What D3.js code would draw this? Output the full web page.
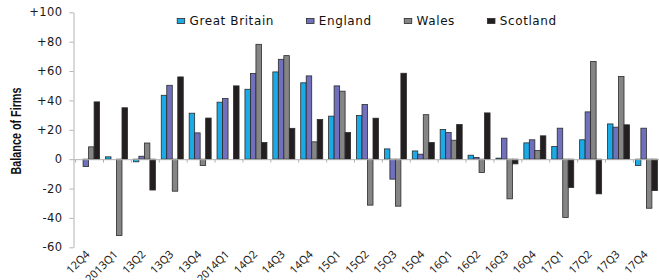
<!DOCTYPE html>
<html>
<head>
<meta charset="utf-8">
<script src="https://cdn.jsdelivr.net/npm/d3@7"></script>
<style>
  body { margin: 0; background: #fff; }
  svg { display: block; }
  .yaxis text { font-family: 'DejaVu Sans', sans-serif; font-size: 11.5px; fill: #1a1a1a; letter-spacing: 0.4px; }
  .yaxis path, .yaxis line, .xaxis path, .xaxis line { stroke: #b3b3b3; }
  .xaxis text { font-family: 'Noto Sans', sans-serif; font-size: 11px; fill: #1a1a1a; }
  .legend text { font-family: 'DejaVu Sans', sans-serif; font-size: 12px; fill: #111; letter-spacing: 0.6px; }
</style>
</head>
<body>
<svg id="chart"></svg>
<script>
let categories = ['12Q4', '2013Q1', '13Q2', '13Q3', '13Q4', '2014Q1', '14Q2', '14Q3', '14Q4', '15Q1', '15Q2',
  '15Q3', '15Q4', '16Q1', '16Q2', '16Q3', '16Q4', '17Q1', '17Q2', '17Q3', '17Q4']

let seriesNames = ['Great Britain', 'England', 'Wales', 'Scotland']

let greatBritain = [0, 1.6, -1.8, 43.5, 31.3, 38.8, 47.6, 59.4, 52, 29.3, 29.7, 7, 5.6, 20.2, 2.7, 0.7, 11.1, 8.6, 13.2, 24, -4.3]
let england = [-5, 0, 2, 50.3, 17.9, 41.3, 58.3, 68, 56.7, 49.9, 37.2, -13.6, 3.4, 18.1, 1.1, 14.3, 13.2, 21.1, 32.2, 21.8, 21.1]
let wales = [8.4, -52, 11, -21.8, -4.3, 0, 78.2, 70.5, 11.8, 46.3, -31.3, -32, 30.3, 12.9, -9.1, -27, 5.9, -39.7, 66.5, 56.3, -33.4]
let scotland = [39, 35, -21, 56, 28, 49.9, 11.3, 21, 27, 18.1, 27.9, 58.5, 11.3, 23.6, 31.5, -3.2, 15.9, -19.3, -23.6, 23.4, -21.4]

let yTicks = [-60, -40, -20, 0, 20, 40, 60, 80, 100]

let width = 659
let height = 280

let colorScale = d3.scaleOrdinal()
  .domain(seriesNames)
  .range(['#1aabe6', '#7070bd', '#858585', '#231f20'])

let svg = d3.select('#chart')
  .attr('width', width)
  .attr('height', height)

// one step per quarter, chart runs slightly past the right edge like the original
let xPositionScale = d3.scaleBand()
  .domain(categories)
  .range([75.6, 75.6 + 21 * 27.89])

let xSeriesScale = d3.scaleBand()
  .domain(seriesNames)
  .range([2, 24])

let yPositionScale = d3.scaleLinear()
  .domain([-60, 100])
  .range([247.3, 12.3])

let rows = categories.map(function (c, i) {
  return {
    cat: c,
    values: [
      { name: 'Great Britain', v: greatBritain[i] },
      { name: 'England', v: england[i] },
      { name: 'Wales', v: wales[i] },
      { name: 'Scotland', v: scotland[i] }
    ]
  }
})

// y axis
let yAxis = d3.axisLeft(yPositionScale)
  .tickValues(yTicks)
  .tickSize(4)
  .tickSizeOuter(0)
  .tickPadding(7)
  .tickFormat(function (d) { return d > 0 ? '+' + d : d })

svg.append('g')
  .attr('class', 'yaxis')
  .attr('transform', 'translate(73.5,0)')
  .call(yAxis)

// bars
let groups = svg.selectAll('.group')
  .data(rows)
  .enter()
  .append('g')
  .attr('class', 'group')
  .attr('transform', function (d) { return 'translate(' + xPositionScale(d.cat) + ',0)' })

groups.selectAll('rect')
  .data(function (d) { return d.values })
  .enter()
  .append('rect')
  .attr('x', function (d) { return xSeriesScale(d.name) })
  .attr('width', xSeriesScale.bandwidth())
  .attr('y', function (d) { return yPositionScale(Math.max(0, d.v)) })
  .attr('height', function (d) { return Math.abs(yPositionScale(d.v) - yPositionScale(0)) })
  .attr('fill', function (d) { return colorScale(d.name) })
  .attr('stroke', '#2a2a2a')
  .attr('stroke-width', 0.8)

// x axis on the zero line
let xAxis = d3.axisBottom(xPositionScale)
  .tickSize(0)
  .tickSizeOuter(0)
  .tickFormat('')

let xg = svg.append('g')
  .attr('class', 'xaxis')
  .attr('transform', 'translate(0,' + yPositionScale(0) + ')')
  .call(xAxis)

xg.select('.domain').attr('d', 'M73.5,0.5H' + width)

xg.selectAll('.boundary')
  .data(categories)
  .enter()
  .append('line')
  .attr('class', 'boundary')
  .attr('x1', function (d) { return xPositionScale(d) })
  .attr('x2', function (d) { return xPositionScale(d) })
  .attr('y1', 0.5)
  .attr('y2', 3.5)

svg.append('g')
  .attr('class', 'xaxis')
  .selectAll('text')
  .data(categories)
  .enter()
  .append('text')
  .attr('text-anchor', 'end')
  .attr('transform', function (d) {
    return 'translate(' + (xPositionScale(d) + xPositionScale.bandwidth() / 2 + 1) + ',255) rotate(-45)'
  })
  .text(function (d) { return d })

// y title
svg.append('text')
  .attr('transform', 'translate(21,131) rotate(-90) scale(0.72,1)')
  .attr('text-anchor', 'middle')
  .style('font-family', 'Liberation Sans, Arial, sans-serif')
  .style('font-weight', 'bold')
  .style('font-size', '15px')
  .style('fill', '#111')
  .text('Balance of Firms')

// legend
let legend = svg.append('g').attr('class', 'legend')
let lx = 176.7
seriesNames.forEach(function (name) {
  let item = legend.append('g').attr('transform', 'translate(' + lx + ',0)')
  item.append('rect')
    .attr('x', 0.5)
    .attr('y', 18.5)
    .attr('width', 7.5)
    .attr('height', 5)
    .attr('fill', colorScale(name))
    .attr('stroke', '#2a2a2a')
    .attr('stroke-width', 0.8)
  let t = item.append('text')
    .attr('x', 12.8)
    .attr('y', 25)
    .text(name)
  lx = lx + 12.8 + t.node().getComputedTextLength() + 32
})
</script>
</body>
</html>
